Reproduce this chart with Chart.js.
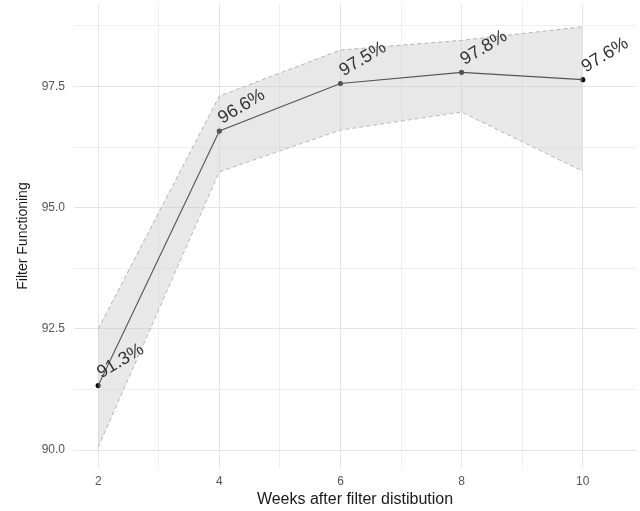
<!DOCTYPE html>
<html>
<head>
<meta charset="utf-8">
<script src="https://cdn.jsdelivr.net/npm/chart.js@4.4.0/dist/chart.umd.min.js"></script>
<style>
  html, body { margin: 0; padding: 0; background: #fff; }
  #wrap { width: 640px; height: 511px; }
</style>
</head>
<body>
<div id="wrap"><canvas id="chart"></canvas></div>
<script>
// values
const weeks = [2, 4, 6, 8, 10];
const functioning = [91.33, 96.58, 97.56, 97.79, 97.64];
const pointLabels = ['91.3%', '96.6%', '97.5%', '97.8%', '97.6%'];
const upperBound = [92.5, 97.3, 98.25, 98.45, 98.73];
const lowerBound = [90.06, 95.74, 96.6, 96.97, 95.75];
const yTicks = [90, 91.25, 92.5, 93.75, 95, 96.25, 97.5, 98.75];
const xTicks = [2, 3, 4, 5, 6, 7, 8, 9, 10];

const toXY = arr => arr.map((v, i) => ({ x: weeks[i], y: v }));

// draws the rotated percentage labels next to each point
const labelPlugin = {
  id: 'pointLabels',
  afterDatasetsDraw(chart) {
    const meta = chart.getDatasetMeta(2);
    const ctx = chart.ctx;
    ctx.save();
    ctx.font = '18px "Liberation Sans", Arial, sans-serif';
    ctx.fillStyle = '#333333';
    ctx.textAlign = 'left';
    ctx.textBaseline = 'alphabetic';
    meta.data.forEach((pt, i) => {
      ctx.save();
      ctx.translate(pt.x + 3, pt.y - 7);
      ctx.rotate(-31 * Math.PI / 180);
      ctx.fillText(pointLabels[i], 0, 0);
      ctx.restore();
    });
    ctx.restore();
  }
};

const isMajorY = v => Math.abs(v / 2.5 - Math.round(v / 2.5)) < 1e-6;
const isMajorX = v => v % 2 === 0;

new Chart(document.getElementById('chart'), {
  type: 'line',
  data: {
    datasets: [
      {
        data: toXY(upperBound),
        borderColor: '#b3b3b3',
        borderDash: [4, 3],
        borderWidth: 1,
        backgroundColor: 'rgba(200,200,200,0.42)',
        fill: '+1',
        pointRadius: 0,
        tension: 0
      },
      {
        data: toXY(lowerBound),
        borderColor: '#b3b3b3',
        borderDash: [4, 3],
        borderWidth: 1,
        fill: false,
        pointRadius: 0,
        tension: 0
      },
      {
        data: toXY(functioning),
        borderColor: '#000000',
        borderWidth: 1.1,
        backgroundColor: '#000000',
        pointRadius: 2.6,
        pointBorderWidth: 0,
        fill: false,
        tension: 0
      }
    ]
  },
  options: {
    responsive: true,
    maintainAspectRatio: false,
    animation: false,
    layout: { padding: 0 },
    plugins: {
      legend: { display: false },
      tooltip: { enabled: false }
    },
    scales: {
      x: {
        type: 'linear',
        min: 1.6,
        max: 10.88,
        afterBuildTicks: s => { s.ticks = xTicks.map(v => ({ value: v })); },
        afterFit: s => { s.height = 43; s.paddingLeft = 0; s.paddingRight = 0; },
        border: { display: false },
        grid: {
          drawTicks: false,
          color: ctx => isMajorX(ctx.tick.value) ? '#e5e5e5' : '#efefef',
          lineWidth: 1
        },
        ticks: {
          padding: 6,
          autoSkip: false,
          maxRotation: 0,
          color: '#555555',
          font: { family: '"Liberation Sans", Arial, sans-serif', size: 12 },
          callback: v => isMajorX(v) ? String(v) : ''
        },
        title: {
          display: true,
          text: 'Weeks after filter distibution',
          color: '#1a1a1a',
          padding: { top: 0, bottom: 2 },
          font: { family: '"Liberation Sans", Arial, sans-serif', size: 16 }
        }
      },
      y: {
        min: 89.63,
        max: 99.2,
        afterBuildTicks: s => { s.ticks = yTicks.map(v => ({ value: v })); },
        afterFit: s => { s.width = 74; s.paddingTop = 0; s.paddingBottom = 0; },
        border: { display: false },
        grid: {
          drawTicks: false,
          color: ctx => isMajorY(ctx.tick.value) ? '#e5e5e5' : '#efefef',
          lineWidth: 1
        },
        ticks: {
          padding: 9,
          color: '#555555',
          font: { family: '"Liberation Sans", Arial, sans-serif', size: 12 },
          callback: v => isMajorY(v) ? v.toFixed(1) : ''
        },
        title: {
          display: true,
          text: 'Filter Functioning',
          color: '#1a1a1a',
          padding: { top: 15, bottom: 0 },
          font: { family: '"Liberation Sans", Arial, sans-serif', size: 14 }
        }
      }
    }
  },
  plugins: [labelPlugin]
});
</script>
</body>
</html>
